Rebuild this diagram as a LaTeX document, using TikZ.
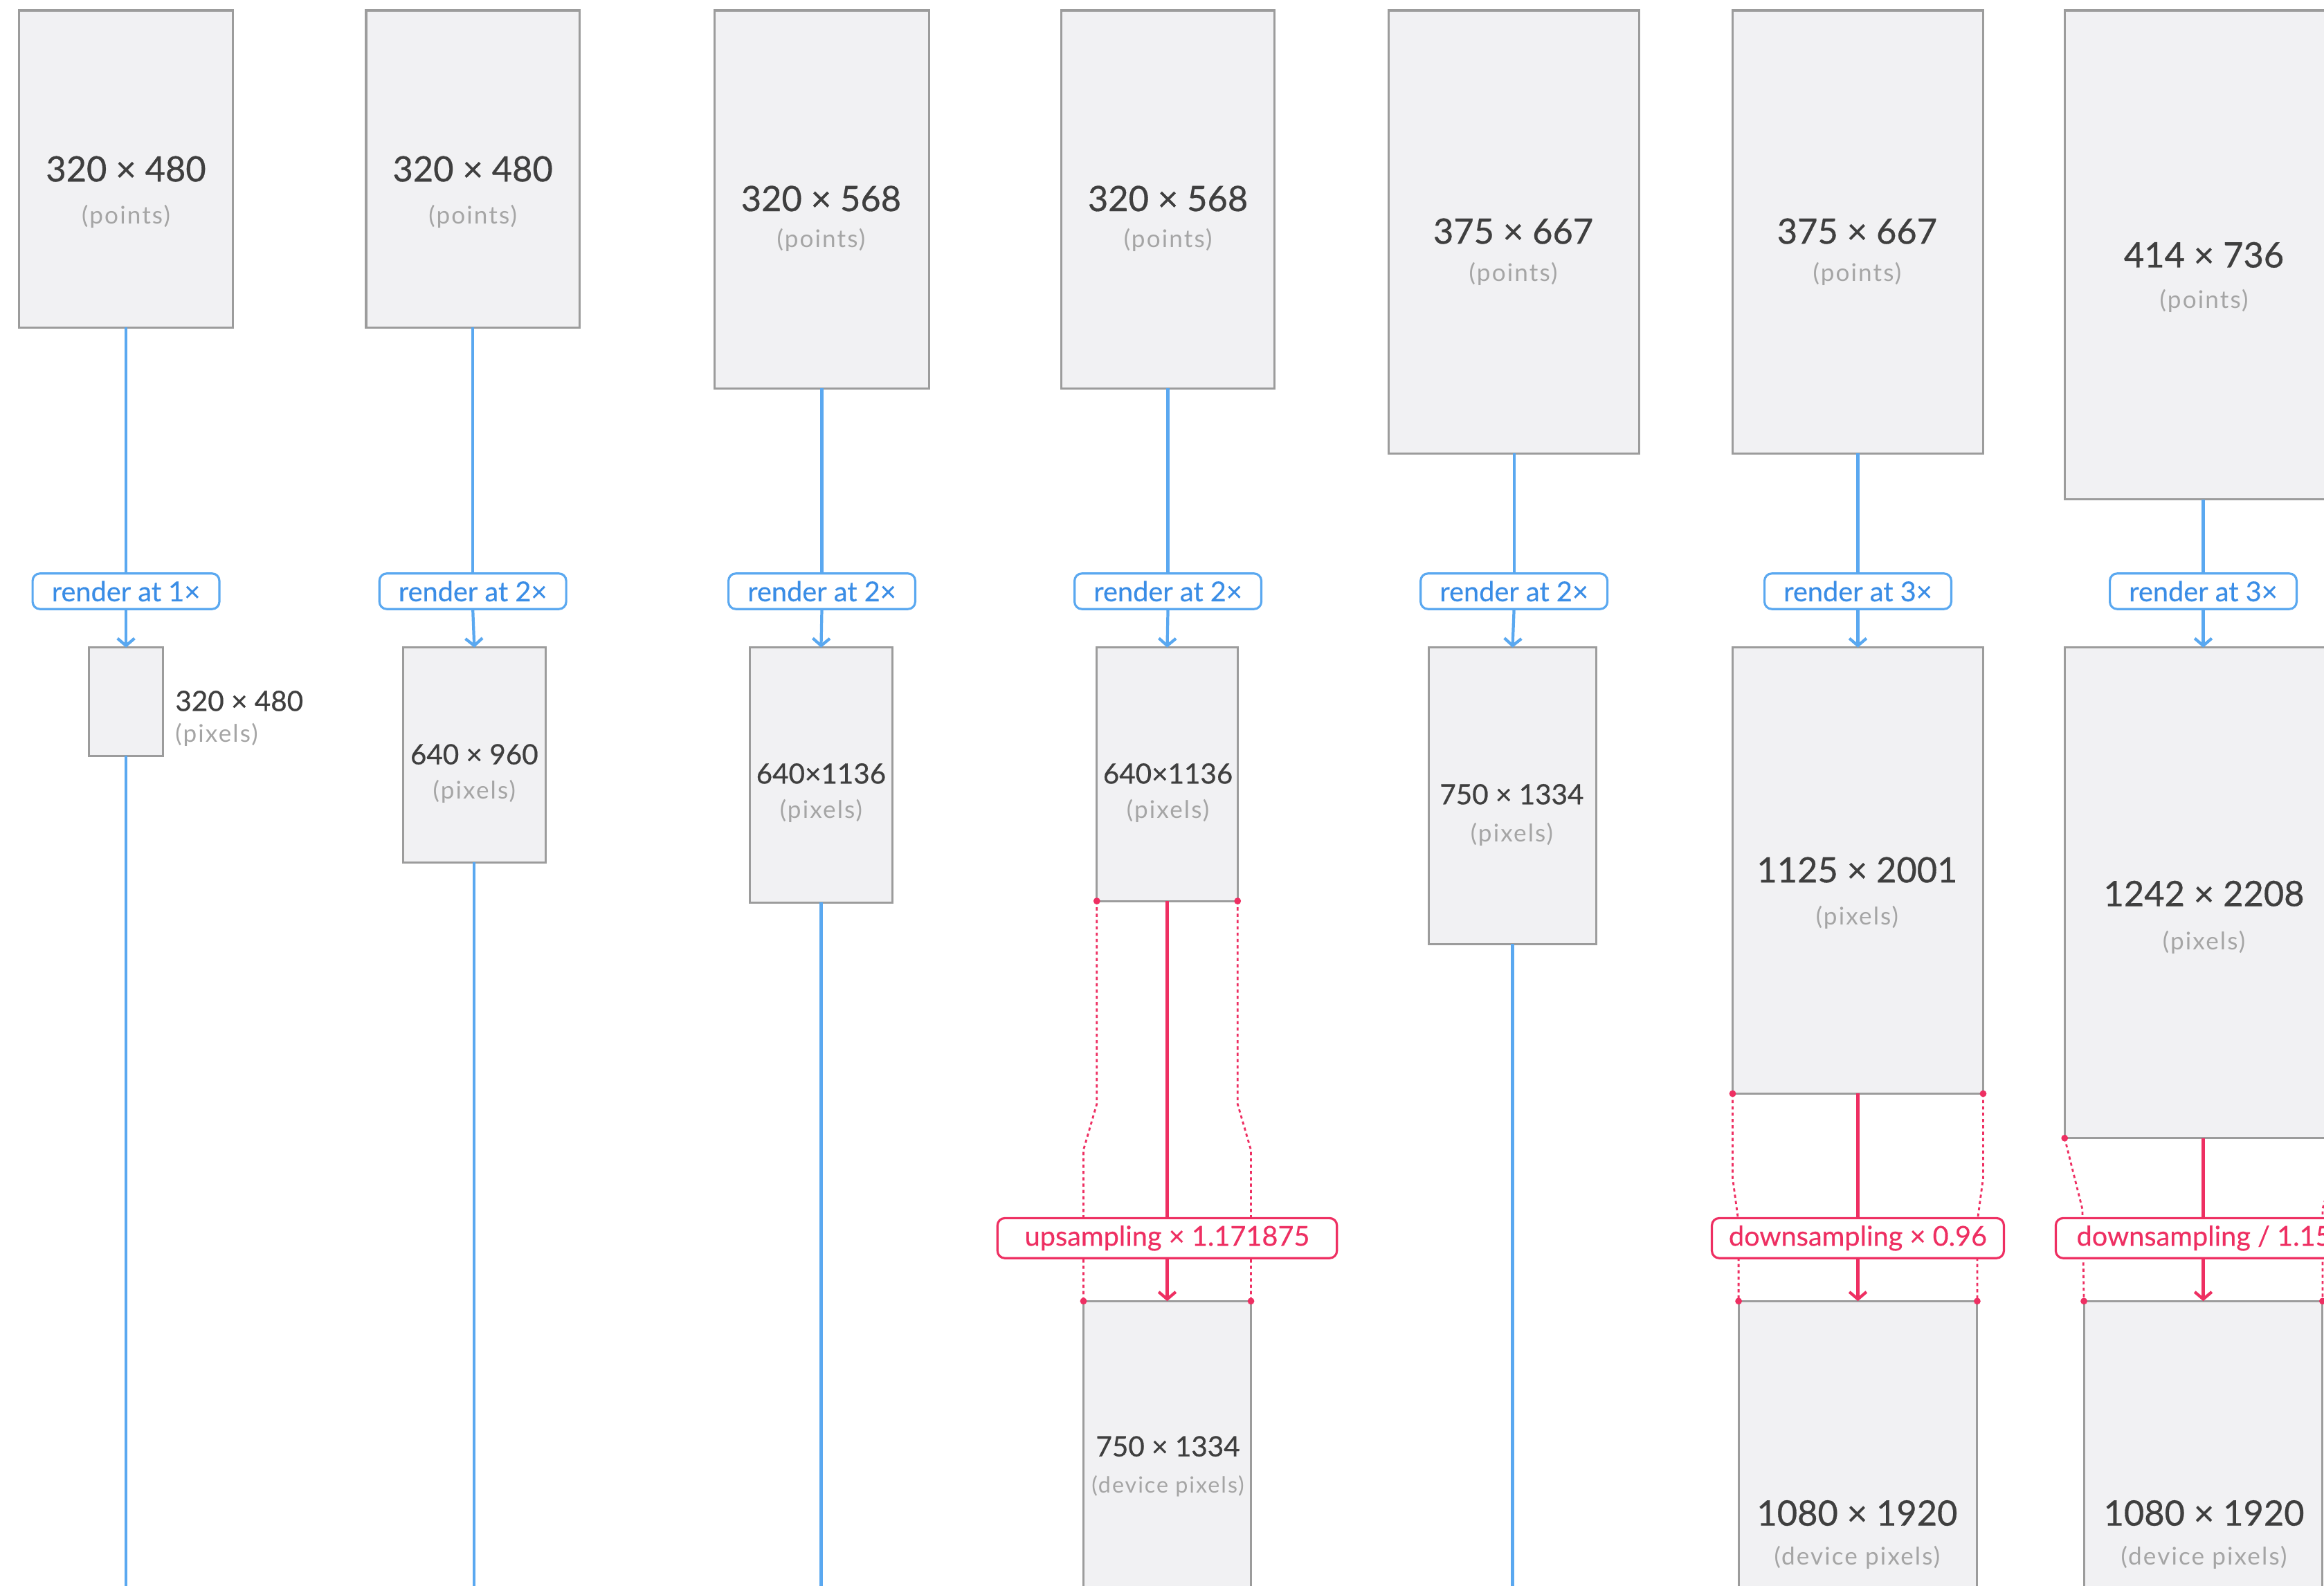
\documentclass[tikz,border=0pt]{standalone}
\usepackage{fontspec}
\setmainfont{Lato}
\newfontfamily\numfont{Lato}[FakeBold=0.6]
\newfontfamily\labfont{Lato}[FakeBold=0.35]
\newfontfamily\subfont{Lato}[LetterSpace=6]
\usetikzlibrary{arrows.meta}
\definecolor{bline}{HTML}{5AA8F0}
\definecolor{btext}{HTML}{3A8DE6}
\definecolor{rline}{HTML}{EE2F62}
\definecolor{boxfill}{HTML}{F1F1F3}
\definecolor{boxdraw}{HTML}{9C9C9C}
\definecolor{numtext}{HTML}{3F3F3F}
\definecolor{subtext}{HTML}{A5A5A5}
\def\dpx{0.021416cm}
\newcommand\scrbox[5]{\node[screen, minimum width={(#4-#2)*\dpx}, minimum height={(#5-#3)*\dpx}] (#1) at (#2,#3) {};}
\begin{document}
\begin{tikzpicture}[x=0.021416cm,y=-0.021416cm,
  screen/.style={draw=boxdraw, fill=boxfill, line width=0.9pt, inner sep=0pt, outer sep=0pt, anchor=north west},
  bigtxt/.style={font=\numfont\fontsize{14.4}{16}\selectfont, text=numtext, inner sep=0pt},
  smalltxt/.style={font=\numfont\fontsize{11.5}{13}\selectfont, text=numtext, inner sep=0pt},
  subtxt/.style={font=\subfont\fontsize{10}{12}\selectfont, text=subtext, inner sep=0pt},
  subsmall/.style={font=\subfont\fontsize{9.2}{11}\selectfont, text=subtext, inner sep=0pt},
  blab/.style={draw=bline, fill=white, rounded corners=3pt, line width=0.9pt, text=btext,
    font=\labfont\fontsize{11.3}{13}\selectfont, minimum width={126*\dpx}, minimum height={24*\dpx}, inner sep=0pt, outer sep=0pt},
  rlab/.style={draw=rline, fill=white, rounded corners=3pt, line width=0.9pt, text=rline,
    font=\labfont\fontsize{11.3}{13}\selectfont, minimum height={27*\dpx}, inner sep=0pt, outer sep=0pt},
  bl/.style={draw=bline, line width=1.2pt},
  blarr/.style={bl, -{Straight Barb[length=3pt,width=7pt]}},
  rl/.style={draw=rline, line width=1.2pt},
  rlarr/.style={rl, -{Straight Barb[length=3pt,width=7pt]}},
  rdots/.style={draw=rline, line width=0.8pt, dash pattern=on 1.3pt off 1.3pt},
  rdot/.style={fill=rline}
]
\useasboundingbox (0,0) rectangle (1568,1070);
\clip (0,0) rectangle (1568,1070);
\fill[white] (0,0) rectangle (1568,1070);
\coordinate (bot) at (0,1080);

% top (points) boxes
\scrbox{T1}{13}{7}{157}{221}
\scrbox{T2}{247}{7}{391}{221}
\scrbox{T3}{482}{7}{627}{262}
\scrbox{T4}{716}{7}{860}{262}
\scrbox{T5}{937}{7}{1106}{306}
\scrbox{T6}{1169}{7}{1338}{306}
\scrbox{T7}{1393}{7}{1580}{337}

% pixel boxes
\scrbox{P1}{60}{437}{110}{510}
\scrbox{P2}{272}{437}{368}{582}
\scrbox{P3}{506}{437}{602}{609}
\scrbox{P4}{740}{437}{835}{608}
\scrbox{P5}{964}{437}{1077}{637}
\scrbox{P6}{1169}{437}{1338}{738}
\scrbox{P7}{1393}{437}{1580}{768}

% device boxes
\scrbox{D4}{731}{878}{844}{1100}
\scrbox{D6}{1173}{878}{1334}{1100}
\scrbox{D7}{1406}{878}{1567}{1100}

% texts in top boxes
\node[bigtxt] (t1a) at (85,114) {320 × 480};
\node[subtxt] (t1b) at (85,146) {(points)};
\node[bigtxt] (t2a) at (319,114) {320 × 480};
\node[subtxt] (t2b) at (319,146) {(points)};
\node[bigtxt] (t3a) at (554,134) {320 × 568};
\node[subtxt] (t3b) at (554,162) {(points)};
\node[bigtxt] (t4a) at (788,134) {320 × 568};
\node[subtxt] (t4b) at (788,162) {(points)};
\node[bigtxt] (t5a) at (1021,156) {375 × 667};
\node[subtxt] (t5b) at (1021,185) {(points)};
\node[bigtxt] (t6a) at (1253,156) {375 × 667};
\node[subtxt] (t6b) at (1253,185) {(points)};
\node[bigtxt] (t7a) at (1487,172) {414 × 736};
\node[subtxt] (t7b) at (1487,203) {(points)};

% texts for pixel boxes
\node[smalltxt, anchor=west] (p1a) at (118,473) {320 × 480};
\node[subtxt, anchor=west] (p1b) at (118,496) {(pixels)};
\node[smalltxt] (p2a) at (320,509) {640 × 960};
\node[subtxt] (p2b) at (320,534) {(pixels)};
\node[smalltxt] (p3a) at (554,522) {640×1136};
\node[subtxt] (p3b) at (554,547) {(pixels)};
\node[smalltxt] (p4a) at (788,522) {640×1136};
\node[subtxt] (p4b) at (788,547) {(pixels)};
\node[smalltxt] (p5a) at (1020,536) {750 × 1334};
\node[subtxt] (p5b) at (1020,563) {(pixels)};
\node[bigtxt] (p6a) at (1253,587) {1125 × 2001};
\node[subtxt] (p6b) at (1253,619) {(pixels)};
\node[bigtxt] (p7a) at (1487,603) {1242 × 2208};
\node[subtxt] (p7b) at (1487,636) {(pixels)};

% device texts
\node[smalltxt] (d4a) at (788,976) {750 × 1334};
\node[subsmall] (d4b) at (788,1003) {(device pixels)};
\node[bigtxt] (d6a) at (1253,1021) {1080 × 1920};
\node[subtxt] (d6b) at (1253,1051) {(device pixels)};
\node[bigtxt] (d7a) at (1487,1021) {1080 × 1920};
\node[subtxt] (d7b) at (1487,1051) {(device pixels)};

% blue render labels
\node[blab] (L1) at (85,399) {render at 1×};
\node[blab] (L2) at (319,399) {render at 2×};
\node[blab] (L3) at (554.5,399) {render at 2×};
\node[blab] (L4) at (788,399) {render at 2×};
\node[blab] (L5) at (1021.5,399) {render at 2×};
\node[blab] (L6) at (1253.5,399) {render at 3×};
\node[blab] (L7) at (1486.5,399) {render at 3×};

% blue connectors
\foreach \k in {1,...,7}{
  \draw[bl] (T\k.south) -- (L\k.north);
  \draw[blarr] (L\k.south) -- (P\k.north);
}
\draw[bl] (P1.south) -- (P1.south |- bot);
\draw[bl] (P2.south) -- (P2.south |- bot);
\draw[bl] (P3.south) -- (P3.south |- bot);
\draw[bl] (P5.south) -- (P5.south |- bot);

% red dotted guides
\coordinate (c4l1) at (740,745); \coordinate (c4l2) at (731,776);
\coordinate (c4r1) at (835,745); \coordinate (c4r2) at (844,776);
\draw[rdots] (P4.south west) -- (c4l1) -- (c4l2) -- (D4.north west);
\draw[rdots] (P4.south east) -- (c4r1) -- (c4r2) -- (D4.north east);
\coordinate (c6l1) at (1169,795); \coordinate (c6l2) at (1173,825);
\coordinate (c6r1) at (1338,795); \coordinate (c6r2) at (1334,825);
\draw[rdots] (P6.south west) -- (c6l1) -- (c6l2) -- (D6.north west);
\draw[rdots] (P6.south east) -- (c6r1) -- (c6r2) -- (D6.north east);
\coordinate (c7l1) at (1405,816);
\coordinate (c7r1) at (1567,816);
\draw[rdots] (P7.south west) -- (c7l1) -- (D7.north west);
\draw[rdots] (P7.south east) -- (c7r1) -- (D7.north east);

% red labels
\node[rlab, minimum width={229*\dpx}] (U4) at (787.5,835.5) {upsampling × 1.171875};
\node[rlab, minimum width={197*\dpx}] (U6) at (1253.5,835.5) {downsampling × 0.96};
\node[rlab, minimum width={200*\dpx}] (U7) at (1487,835.5) {downsampling / 1.15};

% red connectors
\draw[rl] (P4.south) -- (P4.south |- U4.north);
\draw[rlarr] (P4.south |- U4.south) -- (D4.north);
\draw[rl] (P6.south) -- (P6.south |- U6.north);
\draw[rlarr] (P6.south |- U6.south) -- (D6.north);
\draw[rl] (P7.south) -- (P7.south |- U7.north);
\draw[rlarr] (P7.south |- U7.south) -- (D7.north);

% red corner dots
\foreach \n in {P4.south west, P4.south east, D4.north west, D4.north east,
  P6.south west, P6.south east, D6.north west, D6.north east,
  P7.south west, D7.north west, D7.north east}{
  \fill[rdot] (\n) circle[radius=1.4pt];
}
\end{tikzpicture}
\end{document}
